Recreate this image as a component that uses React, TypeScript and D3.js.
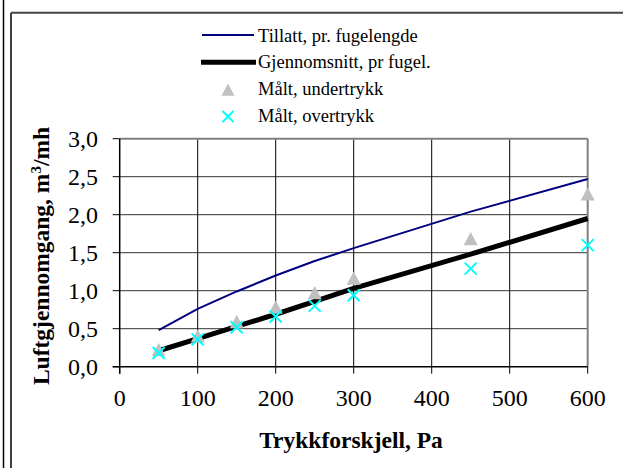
import React from "react";
import * as d3 from "d3";

const pressures = [50, 100, 150, 200, 250, 300, 450, 600];
const tillatt = [0.48, 0.76, 0.99, 1.2, 1.39, 1.56, 2.04, 2.47];
const gjennomsnitt = [0.21, 0.37, 0.53, 0.69, 0.86, 1.03, 1.48, 1.95];
const undertrykk = [0.22, 0.4, 0.59, 0.78, 0.97, 1.16, 1.68, 2.27];
const overtrykk = [0.18, 0.36, 0.52, 0.66, 0.8, 0.94, 1.29, 1.6];
const xTicks = [0, 100, 200, 300, 400, 500, 600];
const yTicks = [0, 0.5, 1, 1.5, 2, 2.5, 3];
const legendLabels = [
  "Tillatt, pr. fugelengde",
  "Gjennomsnitt, pr fugel.",
  "Målt, undertrykk",
  "Målt, overtrykk",
];

const W = 623;
const H = 468;
const TS = { fontFamily: '"Liberation Serif"' };

export default function App() {
  const x = d3.scaleLinear().domain([0, 600]).range([119.7, 587.7]);
  const y = d3.scaleLinear().domain([0, 3]).range([366.7, 138.7]);
  const line = d3
    .line<number>()
    .x((_, i) => x(pressures[i]))
    .y((d) => y(d));
  const fmt = (v: number) => v.toFixed(1).replace(".", ",");
  const tri = (cx: number, cy: number, s = 7) =>
    `M${cx},${cy - s}L${cx + s},${cy + s * 0.9}L${cx - s},${cy + s * 0.9}Z`;
  const cross = (cx: number, cy: number, s = 6) =>
    `M${cx - s},${cy - s}L${cx + s},${cy + s}M${cx - s},${cy + s}L${cx + s},${cy - s}`;

  const x0 = x(0), x1 = x(600), y0 = y(0), y1 = y(3);

  return (
    <svg
      width={W}
      height={H}
      style={{ position: "absolute", left: 0, top: 0, background: "#fff" }}
    >
      <rect x={0} y={0} width={W} height={H} fill="#fff" />
      {/* outer frame */}
      <line x1={3.5} x2={3.5} y1={0} y2={H} stroke="#000" strokeWidth={1.5} />
      <line x1={11} x2={11} y1={12.7} y2={H} stroke="#000" strokeWidth={1.5} />
      <line x1={11} x2={W} y1={12.7} y2={12.7} stroke="#444" strokeWidth={2} />

      {/* horizontal grid */}
      {yTicks.slice(1, -1).map((t) => (
        <line key={"hg" + t} x1={x0} x2={x1} y1={y(t)} y2={y(t)} stroke="#333" strokeWidth={1} />
      ))}
      {/* vertical grid */}
      {xTicks.slice(1, -1).map((t) => (
        <line key={"vg" + t} x1={x(t)} x2={x(t)} y1={y1} y2={y0} stroke="#000" strokeWidth={1} />
      ))}
      {/* plot border top/right */}
      <line x1={x0} x2={x1} y1={y1} y2={y1} stroke="#808080" strokeWidth={2} />
      <line x1={x1} x2={x1} y1={y1} y2={y0} stroke="#808080" strokeWidth={2} />
      {/* axes */}
      <line x1={x0} x2={x0} y1={y1} y2={y0 + 7} stroke="#000" strokeWidth={1.5} />
      <line x1={x0 - 7} x2={x1} y1={y0} y2={y0} stroke="#000" strokeWidth={1.5} />
      {yTicks.map((t) => (
        <line key={"yt" + t} x1={x0 - 7} x2={x0} y1={y(t)} y2={y(t)} stroke="#000" strokeWidth={1} />
      ))}
      {xTicks.map((t) => (
        <line key={"xt" + t} x1={x(t)} x2={x(t)} y1={y0} y2={y0 + 7} stroke="#000" strokeWidth={1} />
      ))}
      {yTicks.map((t) => (
        <text key={"yl" + t} x={98} y={y(t) + 8} fontSize={24} textAnchor="end" fill="#000" style={TS}>
          {fmt(t)}
        </text>
      ))}
      {xTicks.map((t) => (
        <text key={"xl" + t} x={x(t)} y={406} fontSize={24} textAnchor="middle" fill="#000" style={TS}>
          {t}
        </text>
      ))}
      <text x={351} y={448} fontSize={23.5} fontWeight="bold" textAnchor="middle" fill="#000" style={TS}>
        Trykkforskjell, Pa
      </text>
      <text
        transform="translate(49,256) rotate(-90)"
        fontSize={23.5}
        fontWeight="bold"
        textAnchor="middle"
        fill="#000"
        style={TS}
      >
        Luftgjennomgang, m<tspan dy={-8} fontSize={15}>3</tspan>
        <tspan dy={8}>/mh</tspan>
      </text>

      {/* series */}
      <path d={line(tillatt) || ""} fill="none" stroke="#000080" strokeWidth={2} />
      <path d={line(gjennomsnitt) || ""} fill="none" stroke="#000" strokeWidth={5} />
      {undertrykk.map((v, i) => (
        <path key={"u" + i} d={tri(x(pressures[i]), y(v))} fill="#C0C0C0" />
      ))}
      {overtrykk.map((v, i) => (
        <path key={"o" + i} d={cross(x(pressures[i]), y(v))} stroke="#00FFFF" strokeWidth={2} fill="none" />
      ))}

      {/* legend */}
      <line x1={202} x2={254} y1={35} y2={35} stroke="#000080" strokeWidth={2} />
      <line x1={201} x2={256} y1={62.3} y2={62.3} stroke="#000" strokeWidth={5} />
      <path d={tri(228, 90, 6.5)} fill="#C0C0C0" />
      <path d={cross(228, 116.5, 5.5)} stroke="#00FFFF" strokeWidth={2} fill="none" />
      {legendLabels.map((l, i) => (
        <text key={l} x={258} y={41.5 + i * 26.7} fontSize={18.5} fill="#000" style={TS}>
          {l}
        </text>
      ))}
    </svg>
  );
}
